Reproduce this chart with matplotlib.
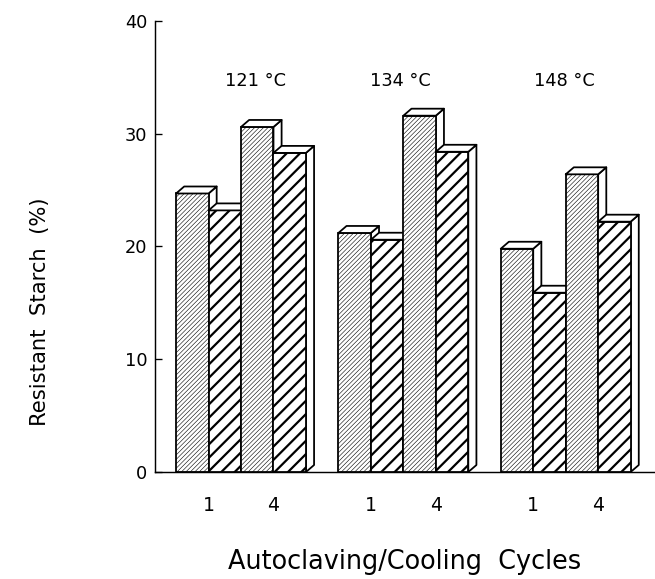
import numpy as np
import matplotlib
matplotlib.use('Agg')
import matplotlib.pyplot as plt
from matplotlib.patches import Polygon

# resistant starch (%) per temperature, bars left to right: cycle 1 (a, b), cycle 4 (a, b)
temps = ['121 °C', '134 °C', '148 °C']
rs_121 = [24.7, 23.2, 30.6, 28.3]
rs_134 = [21.2, 20.6, 31.6, 28.4]
rs_148 = [19.8, 15.9, 26.4, 22.2]
cycle_labels = ['1', '4']
groups = [rs_121, rs_134, rs_148]

hatches = ['//////', '//', '//////', '//']
hatch_lw = [0.5, 2.0, 0.5, 2.0]

dx, dy = 0.25, 0.62   # fake depth of the boxes
lw = 1.6

fig = plt.figure(figsize=(655 / 80, 579 / 80), dpi=80)
ax = fig.add_axes([0.2366, 0.1848, 0.7634, 0.779])

z = 2
tick_pos = []
for g, vals in enumerate(groups):
    x0 = 0.65 + 5 * g
    for i, h in enumerate(vals):
        left = x0 + i
        with plt.rc_context({'hatch.linewidth': hatch_lw[i]}):
            bar = ax.bar(left, h, width=1, align='edge', facecolor='white',
                         edgecolor='black', linewidth=lw, hatch=hatches[i], zorder=z)
        for p in bar:
            if hasattr(p, 'set_hatch_linewidth'):
                p.set_hatch_linewidth(hatch_lw[i])
        top = Polygon([(left, h), (left + dx, h + dy), (left + 1 + dx, h + dy), (left + 1, h)],
                      closed=True, facecolor='white', edgecolor='black', linewidth=lw,
                      joinstyle='round', zorder=z)
        side = Polygon([(left + 1, 0), (left + 1, h), (left + 1 + dx, h + dy), (left + 1 + dx, dy)],
                       closed=True, facecolor='white', edgecolor='black', linewidth=lw,
                       joinstyle='round', zorder=z - 0.5)
        ax.add_patch(side)
        ax.add_patch(top)
        z += 1
    tick_pos += [x0 + 1, x0 + 3]

label_x = [3.1, 7.55, 12.6]
for t, lx in zip(temps, label_x):
    ax.text(lx, 34.7, t, ha='center', va='center', fontsize=16)

ax.set_xlim(0, 15.4)
ax.set_ylim(0, 40)
ax.set_yticks([0, 10, 20, 30, 40])
ax.set_xticks(tick_pos)
ax.set_xticklabels(cycle_labels * 3)
ax.tick_params(axis='y', direction='in', length=6, width=1.2, labelsize=16, pad=7)
ax.tick_params(axis='x', length=0, labelsize=17, pad=22)
ax.spines['top'].set_visible(False)
ax.spines['right'].set_visible(False)
ax.spines['left'].set_linewidth(1.3)
ax.spines['bottom'].set_linewidth(1.3)

ax.set_xlabel('Autoclaving/Cooling  Cycles', fontsize=23, va='center')
ax.set_ylabel('Resistant  Starch  (%)', fontsize=19, va='center')
ax.xaxis.set_label_coords(0.5, -0.2)
ax.yaxis.set_label_coords(-0.23, 0.355)

plt.savefig('out.png', dpi=80)
